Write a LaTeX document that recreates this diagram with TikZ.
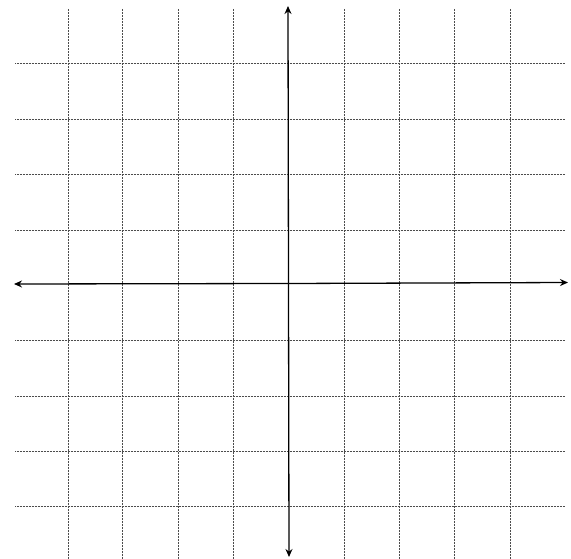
\documentclass[tikz,border=0pt]{standalone}
\usetikzlibrary{arrows.meta}
\begin{document}
\begin{tikzpicture}[x=1pt,y=-1pt,
  gridline/.style={black!70,line width=0.5pt,densely dotted},
  axisline/.style={black,line width=1.3pt,-{Stealth[length=8pt,width=7pt,open]}}]
\useasboundingbox (0,0) rectangle (571,559);
% vertical grid lines
\foreach \x in {68,122,178,233,344,399,454,510}
  \draw[gridline] (\x,9) -- (\x,559);
% horizontal grid lines
\foreach \y in {63,119,174,230,340,396,451,506}
  \draw[gridline] (15,\y) -- (565,\y);
% axes
\coordinate (xl) at (14,284);
\coordinate (xr) at (568,282.5);
\coordinate (yt) at (288,6);
\coordinate (yb) at (289,557);
\coordinate (o) at (288.5,283.5);
\draw[axisline] (o) -- (xr);
\draw[axisline] (o) -- (xl);
\draw[axisline] (o) -- (yt);
\draw[axisline] (o) -- (yb);
\end{tikzpicture}
\end{document}
